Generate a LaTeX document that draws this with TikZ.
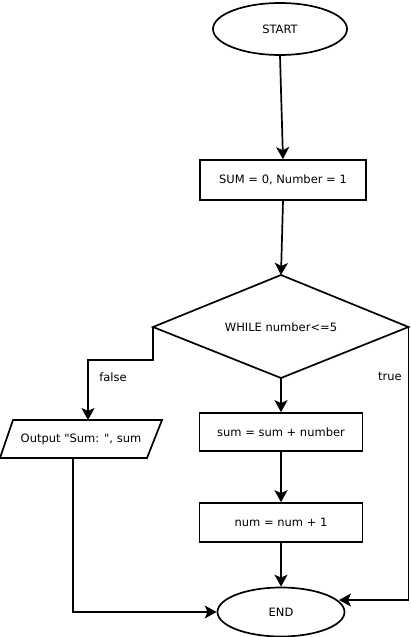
\documentclass[tikz,border=0pt]{standalone}
\usepackage{fontspec}
\setmainfont{DejaVu Sans}[Ligatures=TeXOff]
\usetikzlibrary{shapes.geometric,arrows.meta,calc}
\begin{document}
\begin{tikzpicture}[x=1pt,y=-1pt,
  line width=1.7pt,
  every node/.style={font=\fontsize{11.5}{13}\selectfont},
  term/.style={ellipse, draw, minimum width=134pt, minimum height=52pt, inner sep=0pt},
  proc/.style={rectangle, draw, minimum width=164pt, minimum height=39pt, inner sep=0pt},
  arr/.style={-{Stealth[length=12pt,width=13pt,inset=3pt]}},
  lbl/.style={font=\fontsize{11.5}{13}\selectfont, inner sep=0pt}
]
\useasboundingbox (0,0) rectangle (410,637);

\node[term] (start) at (280,29) {START};
\node[proc, minimum width=166pt, minimum height=40pt] (init) at (283,180) {SUM = 0, Number = 1};

\coordinate (cN) at (281,275);
\coordinate (cE) at (408.5,327);
\coordinate (cS) at (281,378);
\coordinate (cW) at (153,327);
\draw[line join=miter] (cN) -- (cE) -- (cS) -- (cW) -- cycle;
\node (cond) at (281,327) {WHILE number<=5};

\node[proc, minimum width=163pt, minimum height=38pt] (sum) at (281,432) {sum = sum + number};
\node[proc, minimum width=163pt, minimum height=39pt] (num) at (281,522.5) {num = num + 1};
\node[term, minimum width=127pt, minimum height=49pt] (end) at (281,612) {END};

\coordinate (pTL) at (13,420);
\coordinate (pTR) at (162,420);
\coordinate (pBR) at (147,458);
\coordinate (pBL) at (0,458);
\draw (pTL) -- (pTR) -- (pBR) -- (pBL) -- cycle;
\node (out) at (81,439) {Output "Sum: ", sum};
\coordinate (outin) at (88,420);
\coordinate (outout) at (73,458);
\coordinate (endin) at (339,600);

\draw[arr] (start.south) -- (init.north);
\draw[arr] (init.south) -- (cN);
\draw[arr] (cW) -- ++(0,33) -| (outin);
\draw[arr] (cS) -- (sum.north);
\draw[arr] (sum.south) -- (num.north);
\draw[arr] (num.south) -- (end.north);
\draw[arr] (cE) |- (endin);
\draw[arr] (outout) |- (end.west);

\node[lbl] (f) at (113,377) {false};
\node[lbl] (t) at (390,377) {true};
\end{tikzpicture}
\end{document}
